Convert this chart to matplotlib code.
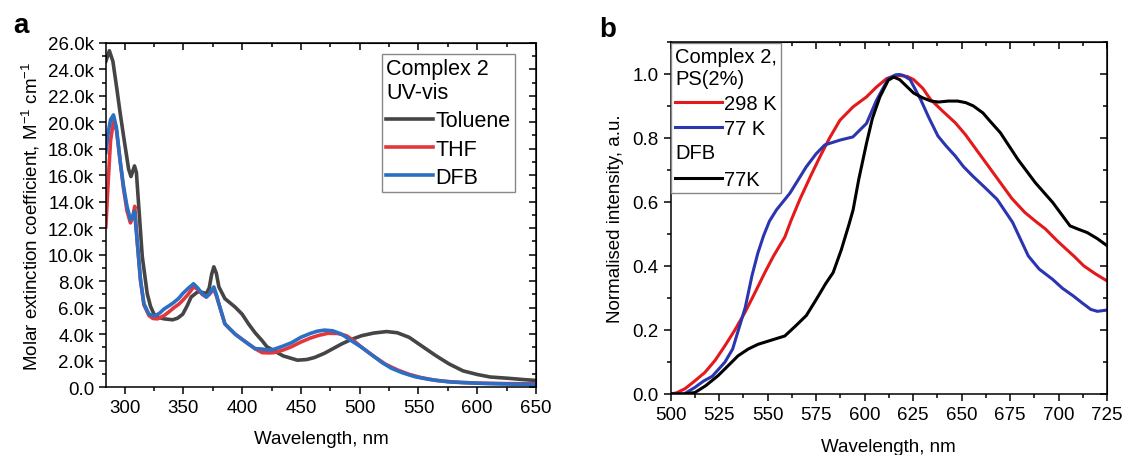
import numpy as np
import matplotlib
matplotlib.use('Agg')
import matplotlib.pyplot as plt
from matplotlib.ticker import MultipleLocator, FuncFormatter
from matplotlib.legend_handler import HandlerBase
from matplotlib.text import Text

plt.rcParams['font.family'] = ['Liberation Sans', 'DejaVu Sans']
plt.rcParams['mathtext.fontset'] = 'custom'
plt.rcParams['mathtext.rm'] = 'Liberation Sans'
plt.rcParams['mathtext.it'] = 'Liberation Sans:italic'
plt.rcParams['font.size'] = 13

### panel a: UV-vis absorption, complex 2 ###
wl_tol = [284, 287, 290, 293.4, 296, 299, 303.4, 305.4, 308.4, 310, 312, 315, 319.2, 322, 325,
          329, 333.6, 340.8, 345, 349.4, 353, 356.6, 362.3, 366, 369.6, 372, 374, 375.9, 378,
          380.2, 385.3, 394, 400, 405.4, 411, 417, 421, 427, 435, 447, 455, 461.5, 470, 484.5,
          493, 501.7, 512, 523, 532, 542, 552, 565, 576, 588, 600, 611, 626.7, 640, 650]
eps_tol = [24600, 25400, 24600, 22500, 20800, 19000, 16450, 15900, 16700, 16200, 13650, 9850, 7060, 6100, 5500,
           5250, 5150, 5080, 5200, 5500, 6100, 6800, 7200, 7150, 7060, 7500, 8500, 9080, 8600,
           7560, 6680, 6040, 5500, 4770, 4100, 3500, 3050, 2740, 2350, 2030, 2080, 2230, 2550, 3250,
           3600, 3880, 4080, 4190, 4100, 3760, 3150, 2360, 1750, 1220, 950, 760, 660, 560, 500]

wl_thf = [284, 286, 288, 290.5, 293, 296.3, 299, 302, 304.9, 306.5, 308.6, 310.6, 313.5, 316.4, 320.7,
          324, 328, 333.6, 338, 342, 346, 349.4, 354, 358.6, 362, 366, 369.5, 372, 375.9, 378,
          381, 385.3, 390, 394, 400, 405.4, 411, 417, 423, 427, 435, 442, 450, 458, 465, 473,
          481, 488.7, 495, 501.7, 510, 522, 532, 542, 552, 565, 580, 600, 625, 650]
eps_thf = [12100, 15500, 18600, 20100, 19400, 17000, 15000, 13300, 12400, 12700, 13650, 11100, 8070, 6200, 5400,
           5180, 5150, 5400, 5700, 6000, 6250, 6550, 7000, 7560, 7400, 7000, 6800, 7000, 7400, 6900,
           6040, 4770, 4350, 4000, 3600, 3250, 2900, 2600, 2580, 2600, 2800, 3050, 3400, 3700, 3900, 4060,
           4050, 3880, 3500, 3000, 2450, 1720, 1300, 960, 720, 500, 380, 300, 260, 250]

wl_dfb = [284, 286, 288, 290.5, 293, 296.3, 299, 302, 304.9, 306.5, 308.4, 310.6, 313.5, 316.4, 320.7,
          323.5, 326.4, 330, 333.6, 338, 342, 346, 349.4, 354, 358.6, 362, 366, 369.5, 372, 375.9, 378,
          381, 385.3, 390, 394, 400, 405.4, 411, 417, 422, 427, 435, 442, 450, 458, 464, 470,
          477, 484.5, 492, 501.7, 510, 519, 527, 536, 547, 559, 575, 588, 610, 630, 650]
eps_dfb = [17700, 19200, 20200, 20550, 19600, 16960, 15200, 13650, 12640, 12800, 13270, 11100, 8070, 6300, 5500,
           5420, 5400, 5600, 5900, 6150, 6400, 6700, 7060, 7450, 7800, 7500, 7050, 6800, 7050, 7560, 7000,
           6040, 4770, 4350, 4000, 3600, 3250, 2900, 2870, 2800, 2850, 3100, 3350, 3760, 4050, 4220, 4300,
           4250, 4000, 3550, 3000, 2450, 1850, 1420, 1090, 780, 580, 400, 330, 260, 220, 200]

### panel b: normalised emission ###
wl_298 = [500, 503, 507.4, 512, 517.7, 523, 528, 533, 538.3, 543, 548.6, 553, 558.9, 562, 566.6, 572,
          577, 582, 587.3, 594.1, 601, 606, 611.3, 615, 618, 622, 625.3, 630, 634, 640, 646.8, 652,
          657.5, 664, 670, 676, 682.6, 688, 693.3, 699, 704, 708, 713, 719, 725]
int_298 = [0.0, 0.003, 0.016, 0.038, 0.067, 0.105, 0.15, 0.198, 0.254, 0.31, 0.379, 0.43, 0.49, 0.54, 0.607, 0.678,
           0.741, 0.8, 0.855, 0.897, 0.928, 0.958, 0.985, 0.993, 0.995, 0.992, 0.982, 0.955, 0.92, 0.885, 0.847, 0.81,
           0.764, 0.71, 0.66, 0.61, 0.567, 0.54, 0.515, 0.48, 0.452, 0.43, 0.4, 0.375, 0.353]

wl_77 = [500, 507, 512.5, 517, 521.5, 528, 532, 535, 538.5, 542, 545, 548, 551, 554.6, 561.5, 570, 575,
         579.5, 587.3, 594, 601, 606.2, 612.2, 616, 618.1, 620, 623.5, 628.9, 633, 637.8, 642, 646.8,
         651, 655.7, 662, 668.3, 676.3, 684.4, 690, 696.9, 702, 707.6, 712, 716.6, 720, 725]
int_77 = [0.0, 0.0, 0.02, 0.04, 0.055, 0.099, 0.14, 0.2, 0.27, 0.37, 0.44, 0.495, 0.54, 0.575, 0.627, 0.71, 0.75,
          0.778, 0.793, 0.803, 0.845, 0.918, 0.985, 0.997, 0.998, 0.995, 0.982, 0.92, 0.865, 0.806, 0.775, 0.743,
          0.71, 0.681, 0.645, 0.608, 0.536, 0.431, 0.39, 0.358, 0.33, 0.306, 0.285, 0.264, 0.258, 0.262]

wl_dfb77 = [500, 507, 512.5, 518, 524.5, 530, 534.8, 540, 545.1, 552, 558.9, 564.4, 570, 575.2, 580,
            583.8, 588, 592, 594.1, 597, 601, 604, 607.9, 612.2, 615, 618.1, 621, 625.3, 630, 634.3,
            638, 643.2, 648, 652.2, 656, 661, 665, 670, 679, 688, 697, 705.9, 710, 714.8, 720, 725]
int_dfb77 = [0.0, 0.0, 0.004, 0.025, 0.057, 0.09, 0.119, 0.14, 0.155, 0.168, 0.181, 0.212, 0.245, 0.296, 0.345,
             0.379, 0.45, 0.53, 0.575, 0.67, 0.783, 0.86, 0.928, 0.98, 0.99, 0.982, 0.965, 0.94, 0.925, 0.915,
             0.912, 0.915, 0.915, 0.91, 0.9, 0.878, 0.85, 0.816, 0.733, 0.66, 0.598, 0.525, 0.515, 0.504, 0.485, 0.463]


class HeaderHandler(HandlerBase):
    # legend "handle" that is just a sub-heading text, written where the line would be
    def create_artists(self, legend, orig_handle, xdescent, ydescent, width, height, fontsize, trans):
        t = Text(-xdescent, -ydescent + height / 2.0, orig_handle.get_text(), fontsize=fontsize,
                 ha='left', va='center', transform=trans)
        return [t]


def style_axes(ax, xmaj, xmin, ymaj, ymin):
    ax.xaxis.set_major_locator(MultipleLocator(xmaj))
    ax.xaxis.set_minor_locator(MultipleLocator(xmin))
    ax.yaxis.set_major_locator(MultipleLocator(ymaj))
    ax.yaxis.set_minor_locator(MultipleLocator(ymin))
    ax.tick_params(which='major', direction='out', length=5, width=1.1, labelsize=13.5)
    ax.tick_params(which='minor', direction='out', length=3, width=1.1)
    for s in ax.spines.values():
        s.set_linewidth(1.1)
    # mirrored ticks pointing inwards on top and right
    top = ax.secondary_xaxis('top')
    right = ax.secondary_yaxis('right')
    for sec, axis in ((top, top.xaxis), (right, right.yaxis)):
        axis.set_major_locator(MultipleLocator(xmaj if sec is top else ymaj))
        axis.set_minor_locator(MultipleLocator(xmin if sec is top else ymin))
        sec.tick_params(which='major', direction='in', length=5, width=1.1, labelleft=False,
                        labelright=False, labeltop=False, labelbottom=False)
        sec.tick_params(which='minor', direction='in', length=3, width=1.1)


fig = plt.figure(figsize=(11.26, 4.56), dpi=100)
ax1 = fig.add_axes([0.094, 0.149, 0.382, 0.755])
ax2 = fig.add_axes([0.5955, 0.134, 0.3877, 0.772])

# ---- a ----
ax1.plot(wl_tol, eps_tol, color='#454545', lw=2.6, label='Toluene')
ax1.plot(wl_thf, eps_thf, color='#e2383d', lw=2.6, label='THF')
ax1.plot(wl_dfb, eps_dfb, color='#2a6fc4', lw=2.6, label='DFB')
ax1.set_xlim(284, 650)
ax1.set_ylim(0, 26000)
style_axes(ax1, 50, 25, 2000, 1000)
ax1.yaxis.set_major_formatter(FuncFormatter(lambda v, p: '0.0' if v == 0 else '{:.1f}k'.format(v / 1000)))
ax1.set_xlabel('Wavelength, nm', fontsize=13.5, labelpad=10)
ax1.set_ylabel(r'Molar extinction coefficient, M$^{-1}$ cm$^{-1}$', fontsize=13.5, labelpad=4)
leg1 = ax1.legend(title='Complex 2\nUV-vis', alignment='left', loc='upper right',
                  bbox_to_anchor=(0.951, 0.968), borderaxespad=0, fontsize=15.5, title_fontsize=15.5,
                  fancybox=False, framealpha=1, edgecolor='#888888', handlelength=2.2,
                  handletextpad=0.1, labelspacing=0.33, borderpad=0.2)
leg1.get_frame().set_linewidth(1.0)
fig.text(0.012, 0.928, 'a', fontsize=20, fontweight='bold')

# ---- b ----
l298, = ax2.plot(wl_298, int_298, color='#e3191c', lw=2.2, label='298 K')
l77, = ax2.plot(wl_77, int_77, color='#2b35b0', lw=2.2, label='77 K')
ldfb, = ax2.plot(wl_dfb77, int_dfb77, color='black', lw=2.2, label='77K')
ax2.set_xlim(500, 725)
ax2.set_ylim(0, 1.1)
style_axes(ax2, 25, 12.5, 0.2, 0.1)
ax2.yaxis.set_major_formatter(FuncFormatter(lambda v, p: '{:.1f}'.format(v)))
ax2.set_xlabel('Wavelength, nm', fontsize=13.5, labelpad=11)
ax2.set_ylabel('Normalised intensity, a.u.', fontsize=13.5, labelpad=6)
header = Text(text='DFB')
leg2 = ax2.legend([l298, l77, header, ldfb], ['298 K', '77 K', '', '77K'],
                  handler_map={Text: HeaderHandler()},
                  title='Complex 2,\nPS(2%)', alignment='left', loc='upper left',
                  bbox_to_anchor=(0.002, 0.998), borderaxespad=0, fontsize=14.5, title_fontsize=14.5,
                  fancybox=False, framealpha=1, edgecolor='#888888', handlelength=2.3,
                  handletextpad=0.1, labelspacing=0.32, borderpad=0.2)
leg2.get_frame().set_linewidth(1.0)
fig.text(0.532, 0.918, 'b', fontsize=20, fontweight='bold')

fig.savefig('out.png', dpi=100)
